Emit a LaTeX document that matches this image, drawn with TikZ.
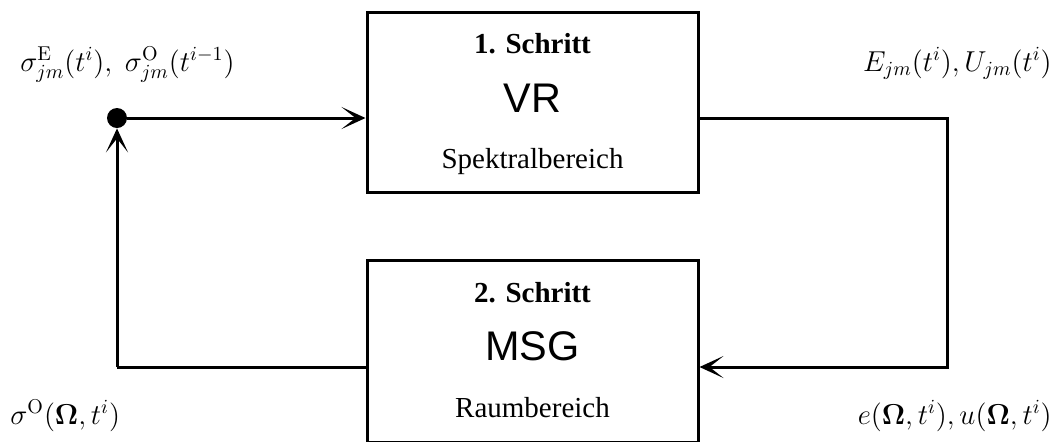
\RequirePackage{fix-cm}
\documentclass[tikz,border=0pt]{standalone}
\usepackage[no-math]{fontspec}
\setmainfont{Liberation Serif}
\setsansfont{Liberation Sans}
\usetikzlibrary{arrows.meta}
\tikzset{
  box/.style={draw, line width=1.5pt, inner sep=0pt, minimum width=165.5pt},
  conn/.style={line width=1.5pt},
  arr/.style={conn, -{Stealth[length=12pt,width=11pt,inset=7pt]}},
  steptitle/.style={anchor=base, inner sep=0pt, font=\fontsize{14.5}{17}\selectfont\bfseries},
  stepname/.style={anchor=base, inner sep=0pt, font=\fontsize{20.7}{24}\selectfont\sffamily},
  stepdomain/.style={anchor=base, inner sep=0pt, font=\fontsize{14.5}{17}\selectfont},
  lbl/.style={inner sep=0pt, font=\fontsize{14.4}{17}\selectfont}
}
\begin{document}
\begin{tikzpicture}[x=0.5pt,y=-0.5pt]
\useasboundingbox (0,0) rectangle (1058,441);
% boxes
\node (box1) [box, minimum height=90pt] at (532.5,102) {};
\node (box2) [box, minimum height=91pt] at (532.5,351) {};
% box texts
\node (t1) [steptitle] at (532.5,53) {1. Schritt};
\node (n1) [stepname] at (532.5,112) {VR};
\node (d1) [stepdomain] at (532.5,168) {Spektralbereich};
\node (t2) [steptitle] at (532.5,302) {2. Schritt};
\node (n2) [stepname] at (532.5,360) {MSG};
\node (d2) [stepdomain] at (532.5,417) {Raumbereich};
% junction and corners
\node (dot) [circle, fill, inner sep=0pt, minimum size=10pt] at (117,118) {};
\coordinate (bl) at (117,367);
\coordinate (tr) at (947,118);
\coordinate (br) at (947,367);
% connectors
\draw[arr] (dot) -- (dot -| box1.west);
\draw[arr] (bl) -- (dot);
\draw[conn] (bl) -- (bl -| box2.west);
\draw[arr] (box1.east |- tr) -- (tr) -- (br) -- (br -| box2.east);
% labels
\node (l1) [lbl, anchor=base west] at (20,71) {$\sigma^{\mathrm{E}}_{jm}(t^i),\;\sigma^{\mathrm{O}}_{jm}(t^{i-1})$};
\node (l2) [lbl, anchor=base east] at (1052,71) {$E_{jm}(t^i), U_{jm}(t^i)$};
\node (l3) [lbl, anchor=base west] at (10,424) {$\sigma^{\mathrm{O}}(\mathbf{\Omega},t^i)$};
\node (l4) [lbl, anchor=base east] at (1052,424) {$e(\mathbf{\Omega},t^i), u(\mathbf{\Omega},t^i)$};
\end{tikzpicture}
\end{document}
